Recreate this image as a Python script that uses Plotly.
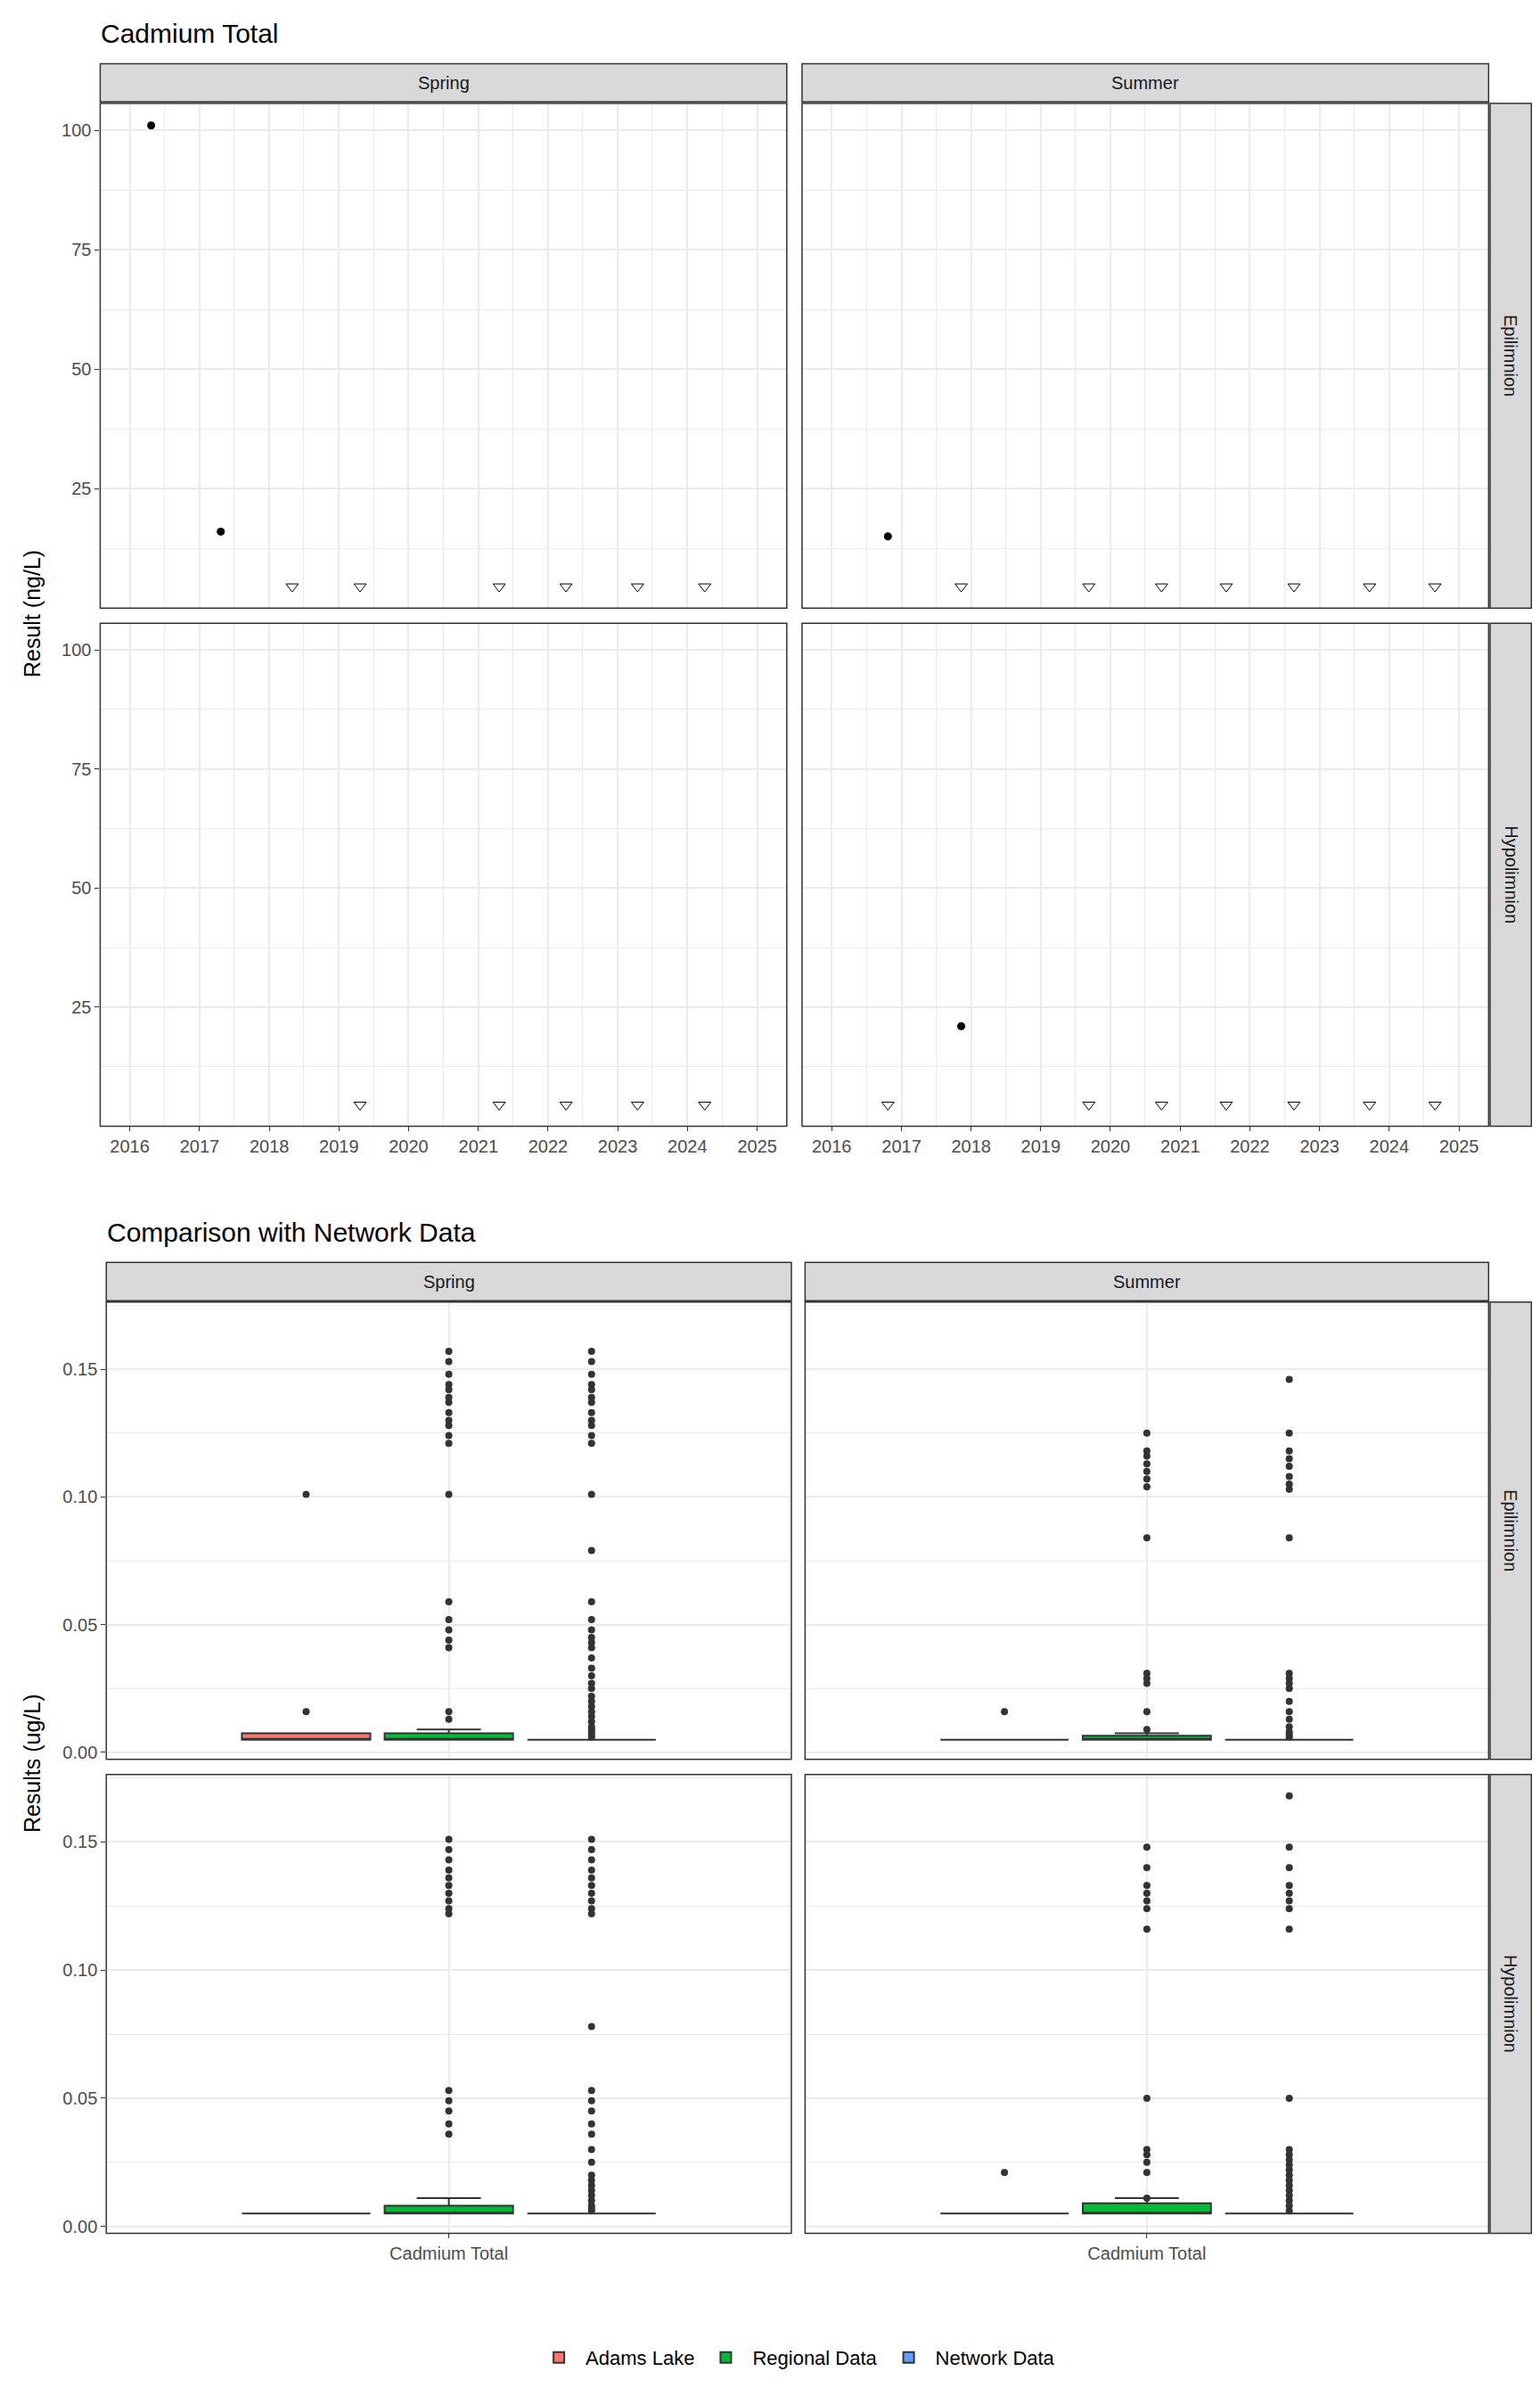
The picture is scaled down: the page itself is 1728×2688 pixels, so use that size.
import plotly.graph_objects as go

# ---- top chart data: Cadmium Total (ng/L) ----
seasons = ["Spring", "Summer"]
layers = ["Epilimnion", "Hypolimnion"]

spring_epi_dates = ["2016-04-22", "2017-04-22"]
spring_epi_vals = [101, 16]
spring_epi_nd = ["2018-05-01", "2019-04-22", "2021-04-20", "2022-04-05", "2023-04-15", "2024-04-01"]
summer_epi_dates = ["2016-10-22"]
summer_epi_vals = [15]
summer_epi_nd = ["2017-11-10", "2019-09-10", "2020-09-25", "2021-08-30", "2022-08-20", "2023-09-20", "2024-08-28"]
spring_hyp_dates = []
spring_hyp_vals = []
spring_hyp_nd = ["2019-04-22", "2021-04-20", "2022-04-05", "2023-04-15", "2024-04-01"]
summer_hyp_dates = ["2017-11-10"]
summer_hyp_vals = [21]
summer_hyp_nd = ["2016-10-22", "2019-09-10", "2020-09-25", "2021-08-30", "2022-08-20", "2023-09-20", "2024-08-28"]
nd_value = 4.5

# ---- bottom chart data: box stats (ug/L) [q1, median, q3, lowerfence, upperfence] ----
groups = ["Adams Lake", "Regional Data", "Network Data"]
group_colors = ["#F8766D", "#00BA38", "#619CFF"]
box_stats = {
    ("Spring", "Epilimnion"): [[0.005, 0.005, 0.0075, 0.005, 0.0075], [0.005, 0.005, 0.0075, 0.005, 0.009], [0.005, 0.005, 0.005, 0.005, 0.005]],
    ("Summer", "Epilimnion"): [[0.005, 0.005, 0.005, 0.005, 0.005], [0.005, 0.005, 0.0065, 0.005, 0.0075], [0.005, 0.005, 0.005, 0.005, 0.005]],
    ("Spring", "Hypolimnion"): [[0.005, 0.005, 0.005, 0.005, 0.005], [0.005, 0.005, 0.008, 0.005, 0.011], [0.005, 0.005, 0.005, 0.005, 0.005]],
    ("Summer", "Hypolimnion"): [[0.005, 0.005, 0.005, 0.005, 0.005], [0.005, 0.005, 0.009, 0.005, 0.011], [0.005, 0.005, 0.005, 0.005, 0.005]],
}
outliers = {
    ("Spring", "Epilimnion"): [
        [0.101, 0.016],
        [0.157, 0.153, 0.148, 0.144, 0.142, 0.139, 0.137, 0.133, 0.130, 0.128, 0.124, 0.121, 0.101, 0.059, 0.052, 0.048, 0.044, 0.041, 0.016, 0.013],
        [0.157, 0.153, 0.148, 0.144, 0.142, 0.139, 0.137, 0.133, 0.130, 0.128, 0.124, 0.121, 0.101, 0.079, 0.059, 0.052, 0.048, 0.045, 0.043, 0.041, 0.037, 0.033, 0.030, 0.027, 0.025, 0.022, 0.020, 0.018, 0.016, 0.014, 0.012, 0.010, 0.009, 0.008, 0.007, 0.006],
    ],
    ("Summer", "Epilimnion"): [
        [0.016],
        [0.125, 0.118, 0.116, 0.113, 0.110, 0.107, 0.104, 0.084, 0.031, 0.029, 0.027, 0.016, 0.009],
        [0.146, 0.125, 0.118, 0.115, 0.112, 0.108, 0.105, 0.103, 0.084, 0.031, 0.029, 0.027, 0.025, 0.020, 0.016, 0.013, 0.010, 0.008, 0.007, 0.006],
    ],
    ("Spring", "Hypolimnion"): [
        [],
        [0.151, 0.147, 0.143, 0.139, 0.136, 0.133, 0.130, 0.127, 0.124, 0.122, 0.053, 0.049, 0.045, 0.040, 0.036],
        [0.151, 0.147, 0.143, 0.139, 0.136, 0.133, 0.130, 0.127, 0.124, 0.122, 0.078, 0.053, 0.049, 0.045, 0.040, 0.036, 0.030, 0.025, 0.020, 0.018, 0.016, 0.014, 0.012, 0.010, 0.008, 0.007, 0.006],
    ],
    ("Summer", "Hypolimnion"): [
        [0.021],
        [0.148, 0.140, 0.133, 0.130, 0.127, 0.124, 0.116, 0.050, 0.030, 0.028, 0.025, 0.021, 0.011],
        [0.168, 0.148, 0.140, 0.133, 0.130, 0.127, 0.124, 0.116, 0.050, 0.030, 0.028, 0.026, 0.024, 0.022, 0.020, 0.018, 0.016, 0.014, 0.012, 0.010, 0.008, 0.006],
    ],
}
group_pos = [-0.25, 0, 0.25]

FONT = "Liberation Sans, Arial, sans-serif"
GRID = "#EBEBEB"
BORDER = "#333333"
STRIP = "#D9D9D9"

top_x = [[0.061, 0.511], [0.521, 0.971]]
top_y = [[0.7474, 0.9595], [0.5296, 0.7410]]
bot_x = [[0.065, 0.514], [0.523, 0.971]]
bot_y = [[0.2635, 0.4557], [0.0643, 0.2571]]

top_data = {
    ("Spring", "Epilimnion"): (spring_epi_dates, spring_epi_vals, spring_epi_nd),
    ("Summer", "Epilimnion"): (summer_epi_dates, summer_epi_vals, summer_epi_nd),
    ("Spring", "Hypolimnion"): (spring_hyp_dates, spring_hyp_vals, spring_hyp_nd),
    ("Summer", "Hypolimnion"): (summer_hyp_dates, summer_hyp_vals, summer_hyp_nd),
}

fig = go.Figure()
layout = {}
shapes = []
annots = []

def add_frame(xd, yd):
    shapes.append(dict(type="rect", xref="paper", yref="paper", x0=xd[0], x1=xd[1], y0=yd[0], y1=yd[1],
                       line=dict(color=BORDER, width=1.5), layer="above"))

def add_strip(x0, x1, y0, y1, text, angle=0):
    shapes.append(dict(type="rect", xref="paper", yref="paper", x0=x0, x1=x1, y0=y0, y1=y1,
                       fillcolor=STRIP, line=dict(color=BORDER, width=1.5)))
    annots.append(dict(xref="paper", yref="paper", x=(x0 + x1) / 2, y=(y0 + y1) / 2, text=text, showarrow=False,
                       textangle=angle, xanchor="center", yanchor="middle",
                       font=dict(size=20, color="#1A1A1A", family=FONT)))

n = 0
for r, layer in enumerate(layers):
    for c, season in enumerate(seasons):
        n += 1
        ax = "" if n == 1 else str(n)
        dates, vals, nd = top_data[(season, layer)]
        fig.add_trace(go.Scatter(x=dates, y=vals, mode="markers", xaxis="x" + ax, yaxis="y" + ax,
                                 marker=dict(color="black", size=9), showlegend=False))
        fig.add_trace(go.Scatter(x=nd, y=[nd_value] * len(nd), mode="markers", xaxis="x" + ax, yaxis="y" + ax,
                                 marker=dict(symbol="triangle-down-open", color="black", size=12, line=dict(width=1)),
                                 showlegend=False))
        layout["xaxis" + ax] = dict(domain=top_x[c], anchor="y" + ax, type="date",
                                    range=["2015-07-30", "2025-06-05"], dtick="M12", tick0="2016-01-01",
                                    tickformat="%Y", showgrid=True, gridcolor=GRID, gridwidth=1.5,
                                    minor=dict(dtick="M6", showgrid=True, gridcolor=GRID, gridwidth=0.8),
                                    showticklabels=(r == 1), ticks="outside" if r == 1 else "", ticklen=5,
                                    tickcolor=BORDER, zeroline=False,
                                    tickfont=dict(size=20, color="#4D4D4D", family=FONT))
        layout["yaxis" + ax] = dict(domain=top_y[r], anchor="x" + ax, range=[0, 105.6], tickvals=[25, 50, 75, 100],
                                    showgrid=True, gridcolor=GRID, gridwidth=1.5,
                                    minor=dict(tickvals=[12.5, 37.5, 62.5, 87.5], showgrid=True, gridcolor=GRID, gridwidth=0.8),
                                    showticklabels=(c == 0), ticks="outside" if c == 0 else "", ticklen=5,
                                    tickcolor=BORDER, zeroline=False,
                                    tickfont=dict(size=20, color="#4D4D4D", family=FONT))
        add_frame(top_x[c], top_y[r])
for c, season in enumerate(seasons):
    add_strip(top_x[c][0], top_x[c][1], 0.9602, 0.9762, season)
for r, layer in enumerate(layers):
    add_strip(0.972, 0.999, top_y[r][0], top_y[r][1], layer, 90)

legend_done = set()
for r, layer in enumerate(layers):
    for c, season in enumerate(seasons):
        n += 1
        ax = str(n)
        stats = box_stats[(season, layer)]
        for g, name in enumerate(groups):
            q1, med, q3, lo, hi = stats[g]
            fig.add_trace(go.Box(x=[group_pos[g]], q1=[q1], median=[med], q3=[q3], lowerfence=[lo], upperfence=[hi],
                                 width=0.225, fillcolor=group_colors[g], line=dict(color=BORDER, width=2),
                                 name=name, legendgroup=name, showlegend=name not in legend_done,
                                 boxpoints=False, xaxis="x" + ax, yaxis="y" + ax))
            legend_done.add(name)
            out = outliers[(season, layer)][g]
            fig.add_trace(go.Scatter(x=[group_pos[g]] * len(out), y=out, mode="markers", showlegend=False,
                                     marker=dict(color=BORDER, size=8), xaxis="x" + ax, yaxis="y" + ax))
        layout["xaxis" + ax] = dict(domain=bot_x[c], anchor="y" + ax, range=[-0.6, 0.6], tickvals=[0],
                                    ticktext=["Cadmium Total"], showgrid=True, gridcolor=GRID, gridwidth=1.5,
                                    showticklabels=(r == 1), ticks="outside" if r == 1 else "", ticklen=5,
                                    tickcolor=BORDER, zeroline=False,
                                    tickfont=dict(size=20, color="#4D4D4D", family=FONT))
        layout["yaxis" + ax] = dict(domain=bot_y[r], anchor="x" + ax, range=[-0.0027, 0.1763],
                                    tickvals=[0, 0.05, 0.10, 0.15], ticktext=["0.00", "0.05", "0.10", "0.15"],
                                    showgrid=True, gridcolor=GRID, gridwidth=1.5,
                                    minor=dict(tickvals=[0.025, 0.075, 0.125, 0.175], showgrid=True, gridcolor=GRID, gridwidth=0.8),
                                    showticklabels=(c == 0), ticks="outside" if c == 0 else "", ticklen=5,
                                    tickcolor=BORDER, zeroline=False,
                                    tickfont=dict(size=20, color="#4D4D4D", family=FONT))
        add_frame(bot_x[c], bot_y[r])
for c, season in enumerate(seasons):
    add_strip(bot_x[c][0], bot_x[c][1], 0.4563, 0.4724, season)
for r, layer in enumerate(layers):
    add_strip(0.972, 0.999, bot_y[r][0], bot_y[r][1], layer, 90)

annots += [
    dict(xref="paper", yref="paper", x=0.060, y=0.989, text="Cadmium Total", showarrow=False, xanchor="left",
         yanchor="middle", font=dict(size=30, color="black", family=FONT)),
    dict(xref="paper", yref="paper", x=0.064, y=0.485, text="Comparison with Network Data", showarrow=False,
         xanchor="left", yanchor="middle", font=dict(size=30, color="black", family=FONT)),
    dict(xref="paper", yref="paper", x=0.016, y=0.745, text="Result (ng/L)", showarrow=False, textangle=-90,
         xanchor="center", yanchor="middle", font=dict(size=25, color="black", family=FONT)),
    dict(xref="paper", yref="paper", x=0.016, y=0.262, text="Results (ug/L)", showarrow=False, textangle=-90,
         xanchor="center", yanchor="middle", font=dict(size=25, color="black", family=FONT)),
]

fig.update_layout(**layout)
fig.update_layout(
    width=1712, height=2672, margin=dict(l=0, r=0, t=0, b=0),
    paper_bgcolor="white", plot_bgcolor="white",
    shapes=shapes, annotations=annots,
    legend=dict(orientation="h", x=0.517, xanchor="center", y=0.012, yanchor="middle",
                font=dict(size=22, color="black", family=FONT), itemwidth=50),
)
fig.write_html("out.html")
